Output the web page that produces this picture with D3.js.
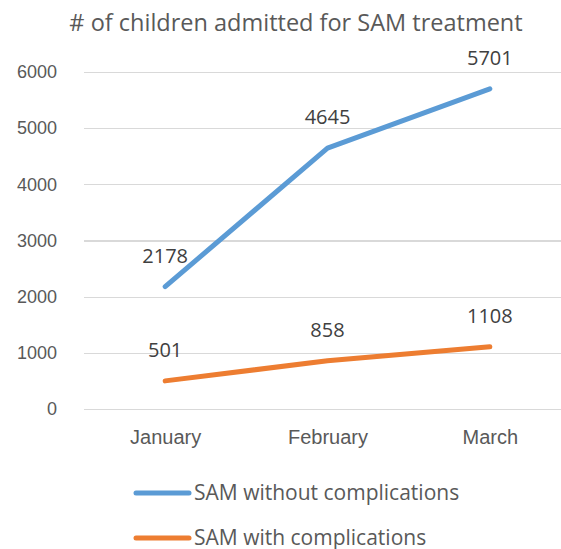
<!DOCTYPE html>
<html>
  <head>
    <meta charset="utf-8">
    <title>SAM admissions</title>
    <script src="https://cdn.jsdelivr.net/npm/d3@7"></script>
    <style>
      body { margin: 0; background: #fff; }
      svg { display: block; font-family: "Open Sans", sans-serif; }
      .grid line { stroke: #d9d9d9; stroke-width: 1.3; shape-rendering: crispEdges; }
      .grid path { stroke-width: 0; }
      .axis text { fill: #595959; }
      .axis path, .axis line { stroke: none; }
    </style>
  </head>
  <body>
    <script>
    const months = ["January", "February", "March"];
    const withoutComp = [2178, 4645, 5701];
    const withComp = [501, 858, 1108];
    const yTicks = [0, 1000, 2000, 3000, 4000, 5000, 6000];

    const series = [
      {name: "SAM without complications", values: withoutComp, color: "#5b9bd5"},
      {name: "SAM with complications", values: withComp, color: "#ed7d31"}
    ];

    const W = 561, H = 549;
    const plot = {left: 84, right: 571, top: 72, bottom: 409};

    const svg = d3.select("body").append("svg")
      .attr("width", W)
      .attr("height", H);

    svg.append("text")
      .attr("x", 296)
      .attr("y", 31)
      .attr("text-anchor", "middle")
      .attr("fill", "#595959")
      .style("font-size", "23.5px")
      .text("# of children admitted for SAM treatment");

    const x = d3.scalePoint().domain(months).range([plot.left, plot.right]).padding(0.5);
    const y = d3.scaleLinear().domain([0, 6000]).range([plot.bottom, plot.top]);

    // gridlines
    svg.append("g")
      .attr("class", "grid")
      .attr("transform", "translate(" + plot.left + ",0)")
      .call(d3.axisLeft(y).tickValues(yTicks).tickSize(-(plot.right - plot.left)).tickFormat(""));

    // y labels
    svg.append("g")
      .attr("class", "axis")
      .attr("transform", "translate(" + plot.left + ",0)")
      .call(d3.axisLeft(y).tickValues(yTicks).tickSize(0).tickPadding(27).tickFormat(d => d))
      .selectAll("text")
      .style("font-size", "18px");

    // x labels
    svg.append("g")
      .attr("class", "axis")
      .attr("transform", "translate(0," + plot.bottom + ")")
      .call(d3.axisBottom(x).tickSize(0).tickPadding(21))
      .selectAll("text")
      .style("font-size", "20px");

    const line = d3.line()
      .x((d, i) => x(months[i]))
      .y(d => y(d));

    series.forEach(s => {
      svg.append("path")
        .datum(s.values)
        .attr("fill", "none")
        .attr("stroke", s.color)
        .attr("stroke-width", 5)
        .attr("stroke-linecap", "round")
        .attr("stroke-linejoin", "round")
        .attr("d", line);

      svg.selectAll(null)
        .data(s.values).enter()
        .append("text")
        .attr("x", (d, i) => x(months[i]))
        .attr("y", d => y(d) - 24)
        .attr("text-anchor", "middle")
        .attr("fill", "#404040")
        .style("font-size", "20px")
        .text(d => d);
    });

    // legend
    const legend = svg.append("g");
    series.forEach((s, i) => {
      const ly = 493 + i * 45;
      legend.append("line")
        .attr("x1", 136).attr("x2", 189)
        .attr("y1", ly).attr("y2", ly)
        .attr("stroke", s.color)
        .attr("stroke-width", 5)
        .attr("stroke-linecap", "round");
      legend.append("text")
        .attr("x", 194)
        .attr("y", ly + 7)
        .attr("fill", "#595959")
        .style("font-size", "21px")
        .text(s.name);
    });
    </script>
  </body>
</html>
